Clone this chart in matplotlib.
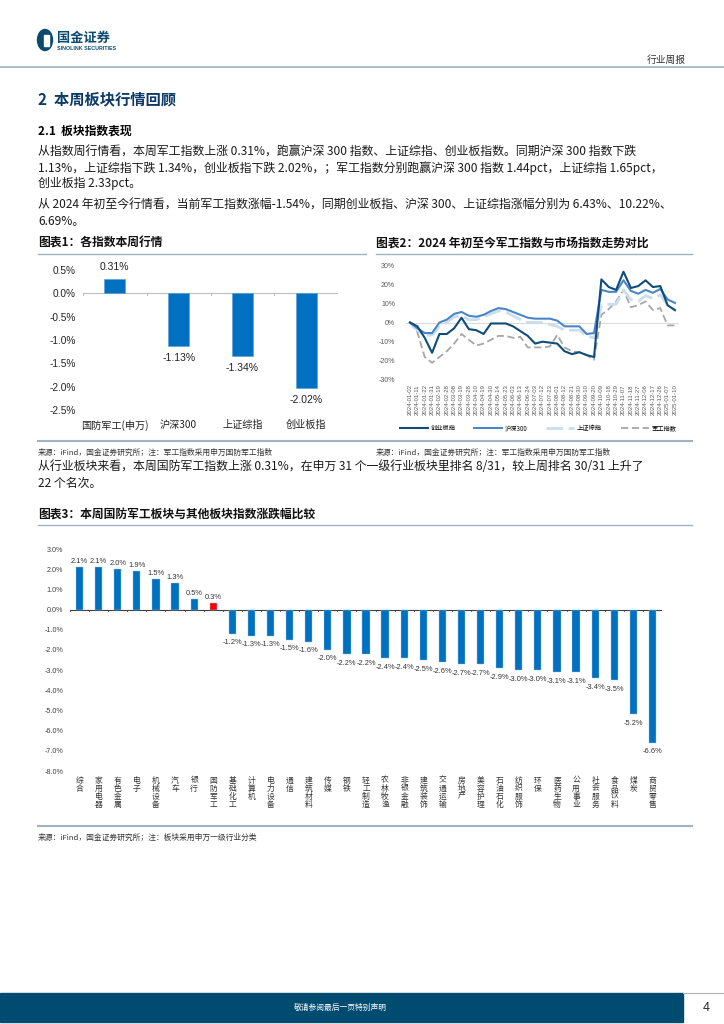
import matplotlib
matplotlib.use("Agg")
import matplotlib.pyplot as plt
from matplotlib.lines import Line2D
from matplotlib.patches import Rectangle, Ellipse

plt.rcParams['font.family'] = ['Noto Sans CJK SC', 'DejaVu Sans']
plt.rcParams['axes.unicode_minus'] = False
NUM = ['Liberation Sans', 'Noto Sans CJK SC']

# ---- 图表1 数据 ----
idx_names = ['国防军工(申万)', '沪深300', '上证综指', '创业板指']
idx_week = [0.31, -1.13, -1.34, -2.02]

# ---- 图表2 数据 ----
dates = ['2024-01-02', '2024-01-11', '2024-01-22', '2024-01-31', '2024-02-19', '2024-02-28',
         '2024-03-08', '2024-03-19', '2024-03-28', '2024-04-10', '2024-04-19', '2024-04-30',
         '2024-05-14', '2024-05-23', '2024-06-03', '2024-06-13', '2024-06-24', '2024-07-03',
         '2024-07-12', '2024-07-23', '2024-08-01', '2024-08-12', '2024-08-21', '2024-08-30',
         '2024-09-10', '2024-09-20', '2024-10-09', '2024-10-18', '2024-10-29', '2024-11-07',
         '2024-11-18', '2024-11-27', '2024-12-06', '2024-12-17', '2024-12-26', '2025-01-07',
         '2025-01-10']
cyb = [0, -2, -8, -15.8, -6, -6, -3, 2.5, -3.5, -4, -6, -0.5, -0.5, -0.5, -2, -4.5, -7, -11,
       -10, -10.5, -11, -15, -16.5, -15.5, -17, -18, 22.5, 18.5, 17, 26.5, 18, 19, 22, 18.5,
       19, 9, 6.4]
hs300 = [0, -3, -5.5, -5.5, 0, 1.5, 4.5, 5.5, 3.5, 3, 4, 6, 7.5, 7, 5.5, 4, 2.5, 2, 2, 2, 1,
         -2, -2, -2, -6, -5.5, 17, 16, 16, 22, 16.5, 15, 17, 15.5, 17.5, 12, 10.2]
szzz = [0, -4, -7, -6.5, -2, 0, 3, 3.5, 1.5, 1.5, 3, 4.5, 6, 5.5, 3.5, 1.5, 0, 0, 0, -1, -2,
        -4, -4, -4, -7, -8, 9, 9.5, 9.5, 17, 12, 11, 14, 12.5, 14.5, 9, 6.7]
jungong = [0, -5, -18, -21, -18, -15, -11, -6, -9, -12, -11, -9, -7, -7, -8, -7.5, -13, -13,
           -13, -12.5, -6.5, -13, -15, -15.5, -17, -19.5, 4, 7, 11, 17, 8, 9, 11, 6.5, 7.5,
           -1.5, -1.54]

# ---- 图表3 数据 ----
sectors = ['综合', '家用电器', '有色金属', '电子', '机械设备', '汽车', '银行', '国防军工',
           '基础化工', '计算机', '电力设备', '通信', '建筑材料', '传媒', '钢铁', '轻工制造',
           '农林牧渔', '非银金融', '建筑装饰', '交通运输', '房地产', '美容护理', '石油石化',
           '纺织服饰', '环保', '医药生物', '公用事业', '社会服务', '食品饮料', '煤炭', '商贸零售']
sector_chg = [2.1, 2.1, 2.0, 1.9, 1.5, 1.3, 0.5, 0.3, -1.2, -1.3, -1.3, -1.5, -1.6, -2.0,
              -2.2, -2.2, -2.4, -2.4, -2.5, -2.6, -2.7, -2.7, -2.9, -3.0, -3.0, -3.1, -3.1,
              -3.4, -3.5, -5.2, -6.6]

W, H = 724, 1024
NAVY = '#0b4a6f'
BLUE = '#0070c0'
RULE = '#9fb3c4'


def fx(x):
    return x / W


def fy(y):
    return 1 - y / H


def hline(fig, x0, x1, y, color=RULE, lw=1.0):
    fig.add_artist(Line2D([fx(x0), fx(x1)], [fy(y), fy(y)], color=color, lw=lw))


fig = plt.figure(figsize=(7.24, 10.24), dpi=100)

# ---- 页眉 ----
fig.add_artist(Ellipse((fx(45), fy(40)), 15 / W, 21 / H, color=NAVY))
fig.add_artist(Rectangle((fx(44), fy(46)), 5 / W, 11 / H, color='white'))
fig.text(fx(57), fy(38), '国金证券', fontsize=9.5, fontweight='bold', color=NAVY, va='center')
fig.text(fx(57), fy(48), 'SINOLINK SECURITIES', fontsize=3.8, fontweight='bold', color=NAVY,
         va='center', family=NUM)
fig.text(fx(686), fy(60), '行业周报', fontsize=7, ha='right', va='center', color='#333333')
hline(fig, 0, W, 67, color='#9fb3c4', lw=1.2)

fig.text(fx(38), fy(99), '2  本周板块行情回顾', fontsize=11, fontweight='bold', color='#0b3a66',
         va='center')
fig.text(fx(38), fy(131), '2.1  板块指数表现', fontsize=8.5, fontweight='bold', color='black',
         va='center')

body = [
    (152, '从指数周行情看，本周军工指数上涨 0.31%，跑赢沪深 300 指数、上证综指、创业板指数。同期沪深 300 指数下跌'),
    (168, '1.13%，上证综指下跌 1.34%，创业板指下跌 2.02%，；军工指数分别跑赢沪深 300 指数 1.44pct，上证综指 1.65pct，'),
    (183, '创业板指 2.33pct。'),
    (205, '从 2024 年初至今行情看，当前军工指数涨幅-1.54%，同期创业板指、沪深 300、上证综指涨幅分别为 6.43%、10.22%、'),
    (221, '6.69%。'),
    (467, '从行业板块来看，本周国防军工指数上涨 0.31%，在申万 31 个一级行业板块里排名 8/31，较上周排名 30/31 上升了'),
    (483, '22 个名次。'),
]
for y, s in body:
    fig.text(fx(38), fy(y), s, fontsize=8.6, va='center', color='#1a1a1a')

# 图表标题
fig.text(fx(38), fy(243), '图表1：各指数本周行情', fontsize=8.5, fontweight='bold', color='#111111',
         va='center')
hline(fig, 38, 366, 254)
fig.text(fx(376), fy(243), '图表2：2024 年初至今军工指数与市场指数走势对比', fontsize=8.5,
         fontweight='bold', color='#111111', va='center')
hline(fig, 376, 692, 254)

# ---- 图表1 ----
ax1 = fig.add_axes([fx(83), fy(410), (338 - 83) / W, (410 - 270) / H])
x1 = list(range(len(idx_names)))
ax1.bar(x1, idx_week, width=0.33, color=BLUE, edgecolor='#5b9bd5', linewidth=0.4, zorder=3)
ax1.set_xlim(-0.5, len(idx_names) - 0.5)
ax1.set_ylim(-2.5, 0.5)
ax1.axhline(0, color='#bfbfbf', lw=0.8, zorder=2)
for b in range(len(idx_names) + 1):
    ax1.plot([b - 0.5, b - 0.5], [0, -0.04], color='#bfbfbf', lw=0.8, zorder=2)
for i, v in enumerate(idx_week):
    ax1.annotate(f'{v:.2f}%', (i, v), xytext=(0, 5 if v > 0 else -5), textcoords='offset points',
                 ha='center', va='bottom' if v > 0 else 'top', fontsize=7.5, family=NUM,
                 color='#222222')
ax1.set_yticks([0.5, 0, -0.5, -1.0, -1.5, -2.0, -2.5])
ax1.set_yticklabels([f'{t:.1f}%' for t in [0.5, 0, -0.5, -1.0, -1.5, -2.0, -2.5]], family=NUM)
ax1.set_xticks(x1)
ax1.set_xticklabels(idx_names)
ax1.tick_params(axis='y', length=0, pad=5, labelsize=7.3, labelcolor='#222222')
ax1.tick_params(axis='x', length=0, pad=7, labelsize=7.3, labelcolor='#222222')
for s in ax1.spines.values():
    s.set_visible(False)

# ---- 图表2 ----
dx = (675 - 410) / (len(dates) - 1)
ax2 = fig.add_axes([fx(410 - dx / 2), fy(380), (265 + dx) / W, (380 - 265) / H])
x2 = list(range(len(dates)))
l_cyb, = ax2.plot(x2, cyb, color='#0e4d7a', lw=1.5, label='创业板指', zorder=5)
l_hs, = ax2.plot(x2, hs300, color='#4a86c6', lw=1.5, label='沪深300', zorder=4)
l_sz, = ax2.plot(x2, szzz, color='#c9def1', lw=2.0, ls=(0, (6, 2)), label='上证综指', zorder=3)
l_jg, = ax2.plot(x2, jungong, color='#a6a6a6', lw=1.3, ls=(0, (4, 2)), label='军工指数', zorder=2)
ax2.axhline(0, color='#d9d9d9', lw=0.7, zorder=1)
ax2.set_xlim(-0.5, len(dates) - 0.5)
ax2.set_ylim(-30, 30)
ax2.set_yticks([30, 20, 10, 0, -10, -20, -30])
ax2.set_yticklabels([f'{t}%' for t in [30, 20, 10, 0, -10, -20, -30]], family=NUM)
ax2.set_xticks(x2)
ax2.set_xticklabels(dates, rotation=90, family=NUM)
ax2.tick_params(axis='y', length=0, pad=8, labelsize=5, labelcolor='#595959')
ax2.tick_params(axis='x', length=0, pad=3, labelsize=4.3, labelcolor='#595959')
for s in ax2.spines.values():
    s.set_visible(False)
fig.legend(handles=[l_cyb, l_hs, l_sz, l_jg], loc='center', bbox_to_anchor=(fx(538), fy(428)),
           ncol=4, fontsize=4.5, frameon=False, handlelength=4.5, columnspacing=3,
           handletextpad=0.4)

# 来源
hline(fig, 38, 692, 441, lw=1.5)
fig.text(fx(38), fy(453), '来源：iFind，国金证券研究所；注：军工指数采用申万国防军工指数', fontsize=5.6,
         va='center', color='#333333')
fig.text(fx(376), fy(453), '来源：iFind，国金证券研究所；注：军工指数采用申万国防军工指数', fontsize=5.6,
         va='center', color='#333333')

fig.text(fx(38), fy(514), '图表3：本周国防军工板块与其他板块指数涨跌幅比较', fontsize=8.5,
         fontweight='bold', color='#111111', va='center')
hline(fig, 38, 692, 525)

# ---- 图表3 ----
ax3 = fig.add_axes([fx(70), fy(771), (662 - 70) / W, (771 - 549) / H])
x3 = list(range(len(sectors)))
colors3 = ['#ff0000' if s == '国防军工' else BLUE for s in sectors]
ax3.bar(x3, sector_chg, width=0.38, color=colors3, edgecolor='#9dc3e6', linewidth=0.3, zorder=3)
ax3.set_xlim(-0.5, len(sectors) - 0.5)
ax3.set_ylim(-8, 3)
ax3.axhline(0, color='#404040', lw=0.8, zorder=2)
for b in range(len(sectors) + 1):
    ax3.plot([b - 0.5, b - 0.5], [0, -0.06], color='#404040', lw=0.6, zorder=2)
for i, v in enumerate(sector_chg):
    ax3.annotate(f'{v:.1f}%', (i, v), xytext=(0, 1.5 if v > 0 else -4), textcoords='offset points',
                 ha='center', va='bottom' if v > 0 else 'top', fontsize=5.4, family=NUM,
                 color='#333333')
yt3 = [3, 2, 1, 0, -1, -2, -3, -4, -5, -6, -7, -8]
ax3.set_yticks(yt3)
ax3.set_yticklabels([f'{t:.1f}%' for t in yt3], family=NUM)
ax3.set_xticks(x3)
ax3.set_xticklabels(['\n'.join(s) for s in sectors], linespacing=1.0, va='top')
ax3.tick_params(axis='y', length=0, pad=5, labelsize=5.2, labelcolor='#404040')
ax3.tick_params(axis='x', length=0, pad=4, labelsize=5.6, labelcolor='#333333')
for s in ax3.spines.values():
    s.set_visible(False)

hline(fig, 38, 692, 826, lw=1.5)
fig.text(fx(38), fy(838), '来源：iFind，国金证券研究所；注：板块采用申万一级行业分类', fontsize=5.6,
         va='center', color='#333333')

# ---- 页脚 ----
fig.add_artist(Rectangle((0, fy(1022)), fx(683), (1022 - 993) / H, color='#004b70'))
hline(fig, 683, W, 993, color='#b0b0b0', lw=0.8)
fig.text(fx(340), fy(1008), '敬请参阅最后一页特别声明', fontsize=5.6, color='white', ha='center',
         va='center')
fig.text(fx(706), fy(1008), '4', fontsize=9, color='#222222', ha='center', va='center', family=NUM)

fig.savefig('out.png', dpi=100)
